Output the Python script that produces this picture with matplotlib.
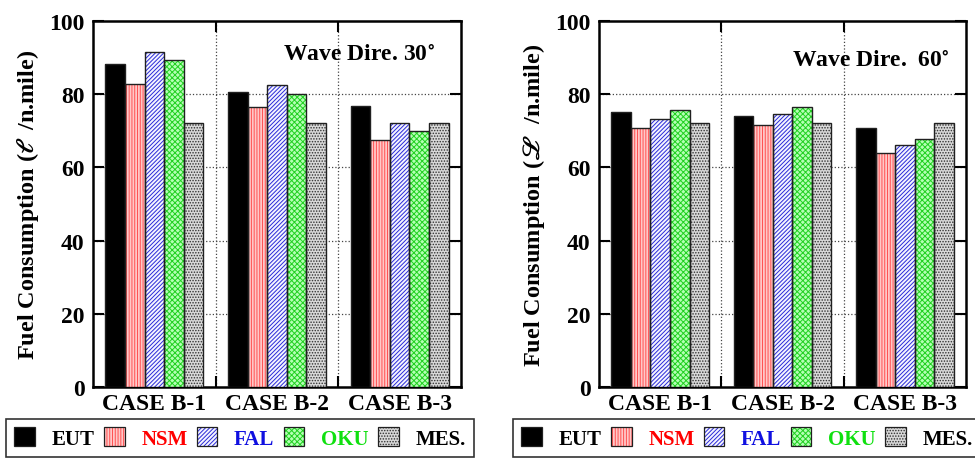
import matplotlib
matplotlib.use("Agg")
import matplotlib.pyplot as plt
from matplotlib.patches import Patch
from matplotlib.legend_handler import HandlerTuple
import numpy as np

plt.rcParams['font.family'] = ['Liberation Serif', 'DejaVu Serif']
plt.rcParams['font.weight'] = 'bold'
plt.rcParams['mathtext.fontset'] = 'stix'
plt.rcParams['hatch.linewidth'] = 0.7

# ---- datos ----
casos = ["CASE B-1", "CASE B-2", "CASE B-3"]
series = ["EUT", "NSM", "FAL", "OKU", "MES."]

ola_30 = {
    "EUT": [88.2, 80.5, 76.9],
    "NSM": [82.8, 76.6, 67.5],
    "FAL": [91.4, 82.5, 72.0],
    "OKU": [89.3, 80.1, 70.0],
    "MES.": [72.0, 72.0, 72.0],
}
ola_60 = {
    "EUT": [75.1, 74.0, 70.9],
    "NSM": [70.8, 71.5, 64.0],
    "FAL": [73.1, 74.5, 66.0],
    "OKU": [75.8, 76.6, 67.7],
    "MES.": [72.0, 72.0, 72.0],
}

# estilo de cada serie: relleno, color de trama, trama, color del texto
estilos = {
    "EUT": ("black", "black", None, "black"),
    "NSM": ("#ffc8c8", "#ff5050", "||||||", "#ff0000"),
    "FAL": ("#f4f4ff", "#2a2ad8", "////////", "#1010e0"),
    "OKU": ("#b4ffb4", "#20d020", "xxxxxx", "#10e010"),
    "MES.": ("#d8d8d8", "#303030", "......", "black"),
}


def dibujar(ax, datos, titulo, etiqueta_y, pos_titulo):
    ancho = 0.16
    x = np.arange(len(casos))
    for j, s in enumerate(series):
        cara, trama_col, trama, _ = estilos[s]
        pos = x + 0.1 + ancho * j + ancho / 2
        ax.bar(pos, datos[s], ancho, color=cara, edgecolor=trama_col,
               hatch=trama, linewidth=0, zorder=3)
        ax.bar(pos, datos[s], ancho, fill=False, edgecolor="#202020",
               linewidth=1.0, zorder=4)

    ax.set_xlim(0, 3)
    ax.set_ylim(0, 100)
    ax.set_yticks([0, 20, 40, 60, 80, 100])
    ax.set_xticks([1, 2])
    ax.set_xticks([0.5, 1.5, 2.5], minor=True)
    ax.set_xticklabels([])
    ax.set_xticklabels(casos, minor=True, fontsize=17, fontweight="bold")
    ax.tick_params(axis="x", which="minor", length=0, pad=4)
    ax.tick_params(axis="x", which="major", direction="in", length=8,
                   width=1.5, top=True, bottom=True)
    ax.tick_params(axis="y", direction="in", length=8, width=1.5,
                   left=True, right=True, labelsize=17, pad=6)
    for lbl in ax.get_yticklabels():
        lbl.set_fontweight("bold")
    for sp in ax.spines.values():
        sp.set_linewidth(1.8)

    for v in [20, 40, 60, 80]:
        ax.axhline(v, color="#444444", linestyle=":", linewidth=0.9, zorder=1)
    for v in [1, 2]:
        ax.axvline(v, color="#444444", linestyle=":", linewidth=0.9, zorder=1)

    ax.set_ylabel(etiqueta_y, fontsize=17.5, fontweight="bold", labelpad=6)
    ax.text(pos_titulo[0], pos_titulo[1], titulo, transform=ax.transAxes,
            ha="right", va="center", fontsize=17, fontweight="bold", zorder=5)


fig = plt.figure(figsize=(9.75, 4.6), dpi=100)
ax1 = fig.add_axes([0.0954, 0.1565, 0.3774, 0.7957])
ax2 = fig.add_axes([0.6144, 0.1565, 0.3764, 0.7957])

dibujar(ax1, ola_30, "Wave Dire. 30$^{\\circ}$",
        "Fuel Consumption ($\\ell$  /n.mile)", (0.93, 0.91))
dibujar(ax2, ola_60, "Wave Dire.  60$^{\\circ}$",
        "Fuel Consumption ($\\mathscr{L}$  /n.mile)", (0.955, 0.895))

manijas = []
for s in series:
    cara, trama_col, trama, _ = estilos[s]
    fondo = Patch(facecolor=cara, edgecolor=trama_col, hatch=trama, linewidth=0)
    borde = Patch(fill=False, edgecolor="#202020", linewidth=0.9)
    manijas.append((fondo, borde))

for x0, w in [(0.006, 0.48), (0.526, 0.48)]:
    leg = fig.legend(manijas, series, ncol=5, loc="center",
                     bbox_to_anchor=(x0, 0.007, w, 0.078), mode="expand",
                     handler_map={tuple: HandlerTuple(ndivide=1)},
                     prop={"weight": "bold", "size": 15}, handlelength=1.0,
                     handleheight=1.0, handletextpad=0.8, columnspacing=1.0,
                     fancybox=False, edgecolor="black", borderaxespad=0)
    leg.get_frame().set_linewidth(1.2)
    for t, s in zip(leg.get_texts(), series):
        t.set_color(estilos[s][3])

fig.savefig("out.png", dpi=100)
